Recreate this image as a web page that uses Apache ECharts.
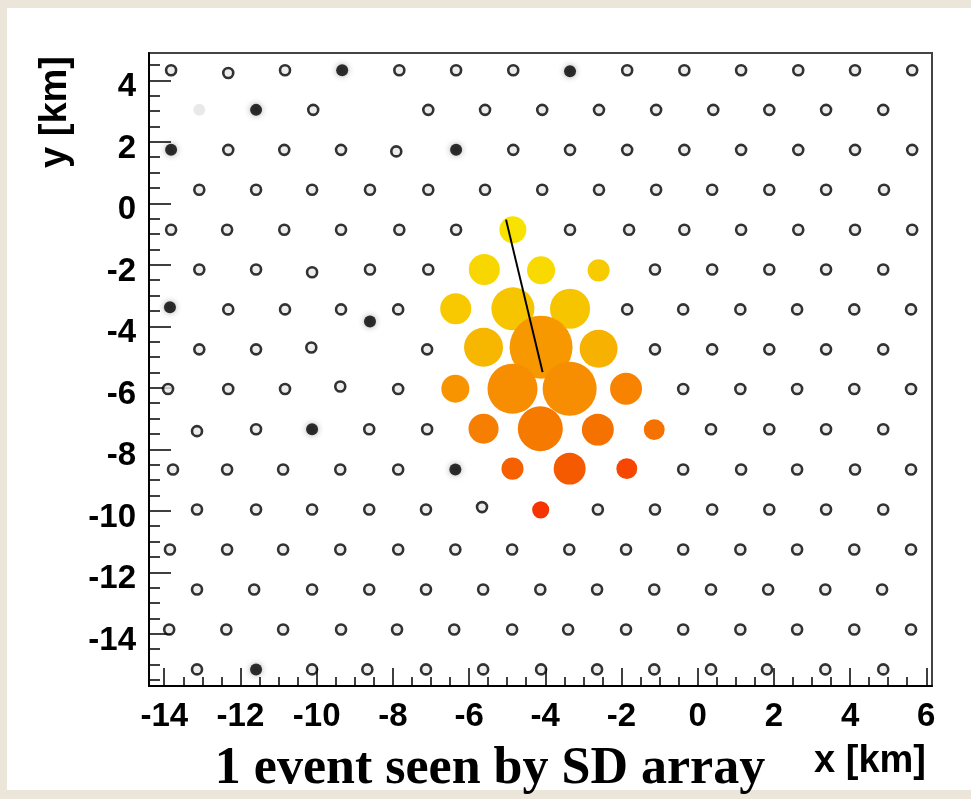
<!DOCTYPE html>
<html>
<head>
<meta charset="utf-8">
<script src="https://cdn.jsdelivr.net/npm/echarts@6/dist/echarts.min.js"></script>
<style>
  html, body { margin: 0; padding: 0; background: #ebe6d9; }
  #paper { position: absolute; left: 7px; top: 8px; right: 0; bottom: 9px; background: #fff; }
  #chart { position: absolute; left: 0; top: 0; width: 971px; height: 799px; }
</style>
</head>
<body>
<div id="paper"></div>
<div id="chart"></div>
<script>
// axis ticks (km)
const majorX = [-14, -12, -10, -8, -6, -4, -2, 0, 2, 4, 6]
const minorX = [-13.5, -13, -12.5, -11.5, -11, -10.5, -9.5, -9, -8.5, -7.5, -7, -6.5, -5.5, -5, -4.5,
  -3.5, -3, -2.5, -1.5, -1, -0.5, 0.5, 1, 1.5, 2.5, 3, 3.5, 4.5, 5, 5.5]
const majorY = [4, 2, 0, -2, -4, -6, -8, -10, -12, -14]
const minorY = [4.5, 3.5, 3, 2.5, 1.5, 1, 0.5, -0.5, -1, -1.5, -2.5, -3, -3.5, -4.5, -5, -5.5, -6.5, -7, -7.5,
  -8.5, -9, -9.5, -10.5, -11, -11.5, -12.5, -13, -13.5, -14.5, -15, -15.5]

// silent stations, one row of the array per entry (y of row, x of stations)
const rowY = [4.33, 3.04, 1.74, 0.44, -0.86, -2.15, -3.45, -4.75, -6.04, -7.35, -8.66, -9.96, -11.26, -12.56, -13.86, -15.16]
const rowX = [
  [-13.82, -10.83, -7.83, -6.34, -4.84, -1.85, -0.35, 1.14, 2.64, 4.13, 5.63],
  [-10.09, -7.07, -5.58, -4.08, -2.59, -1.09, 0.41, 1.88, 3.37, 4.87],
  [-12.32, -10.85, -9.36, -4.84, -3.35, -1.85, -0.35, 1.14, 2.64, 4.13, 5.63],
  [-13.08, -11.59, -10.12, -8.60, -7.07, -5.58, -4.08, -2.59, -1.09, 0.38, 1.88, 3.37, 4.89],
  [-13.82, -12.35, -10.85, -9.36, -7.83, -6.34, -3.35, -1.80, -0.35, 1.14, 2.64, 4.13, 5.63],
  [-13.08, -11.59, -8.60, -7.07, -1.12, 0.38, 1.88, 3.37, 4.87],
  [-12.32, -10.83, -9.36, -7.86, -1.85, -0.38, 1.12, 2.61, 4.11, 5.60],
  [-13.08, -11.59, -7.10, -1.12, 0.38, 1.88, 3.37, 4.87],
  [-13.90, -12.32, -10.83, -7.86, -0.38, 1.12, 2.61, 4.11, 5.60],
  [-11.59, -8.62, -7.10, 0.35, 1.88, 3.37, 4.87],
  [-13.77, -12.35, -10.88, -9.38, -7.86, -0.38, 1.14, 2.61, 4.13, 5.60],
  [-13.14, -11.59, -10.12, -8.62, -7.13, -2.62, -1.12, 0.38, 1.88, 3.37, 4.87],
  [-13.85, -12.35, -10.88, -9.38, -7.86, -6.36, -4.87, -3.37, -1.88, -0.38, 1.12, 2.61, 4.11, 5.60],
  [-13.14, -11.64, -10.12, -8.62, -7.13, -5.63, -4.13, -2.64, -1.14, 0.35, 1.85, 3.35, 4.84],
  [-13.87, -12.37, -10.88, -9.36, -7.89, -6.39, -4.87, -3.40, -1.88, -0.38, 1.12, 2.61, 4.11, 5.60],
  [-13.14, -10.12, -8.67, -7.13, -5.63, -4.11, -2.64, -1.14, 0.35, 1.82, 3.35, 4.87]
]
// silent stations sitting a little off their row
const offRowStations = [[-12.32, 4.24], [-7.91, 1.69], [-10.12, -2.24], [-10.14, -4.69], [-9.38, -5.96], [-13.14, -7.41], [-5.66, -9.88]]
// stations out of service (black) and the one shown in light grey
const deadStations = [[-9.33, 4.33], [-3.35, 4.30], [-11.59, 3.04], [-13.82, 1.74], [-6.34, 1.74], [-13.85, -3.38],
  [-8.60, -3.84], [-10.12, -7.35], [-6.36, -8.66], [-11.59, -15.16]]
const greyStations = [[-13.08, 3.04]]

// triggered stations: position, signal (size) and arrival time (colour)
const hitX = [-4.85, -5.60, -4.11, -2.60, -6.35, -4.85, -3.35, -5.62, -4.11, -2.60, -6.36, -4.86, -3.36, -1.88,
  -5.62, -4.13, -2.62, -1.14, -4.86, -3.36, -1.86, -4.12]
const hitY = [-0.86, -2.15, -2.18, -2.18, -3.43, -3.43, -3.43, -4.68, -4.68, -4.73, -6.03, -6.03, -6.03, -6.03,
  -7.33, -7.33, -7.36, -7.36, -8.63, -8.63, -8.63, -9.97]
const hitSignal = [9.0, 11.9, 9.7, 6.0, 11.9, 22.8, 19.8, 18.8, 49, 17.8, 9.7, 30.9, 36, 12.6,
  11.1, 25, 12.6, 5.4, 6.0, 12.6, 5.4, 3.6]
const hitTime = [0.14, 0.44, 0.37, 0.74, 0.79, 0.86, 0.86, 1.20, 1.95, 1.34, 2.06, 2.22, 2.22, 2.48,
  2.59, 2.71, 2.89, 2.89, 3.33, 3.47, 3.96, 4.40]

// reconstructed shower axis
const showerAxis = [[-5.03, -0.53], [-4.07, -5.49]]

const silent = []
rowX.forEach((xs, i) => xs.forEach(x => silent.push([x, rowY[i]])))
offRowStations.forEach(p => silent.push(p))
const hits = hitX.map((x, i) => [x, hitY[i], hitSignal[i], hitTime[i]])

const labelFont = { fontFamily: 'Liberation Sans', fontWeight: 'bold', fontSize: 33, color: '#000' }
const tickStyle = { color: '#000', width: 1.5 }

const chart = echarts.init(document.getElementById('chart'), null, { renderer: 'canvas' })
chart.setOption({
  animation: false,
  backgroundColor: 'transparent',
  grid: { left: 149, top: 53, width: 783, height: 633, show: true, borderColor: '#444', borderWidth: 2 },
  xAxis: [
    {
      type: 'value', min: -14.4, max: 6.15, position: 'bottom',
      axisLine: { show: true, onZero: false, lineStyle: { color: '#000', width: 2 } },
      axisTick: { show: true, inside: true, length: 18, customValues: majorX, lineStyle: tickStyle },
      axisLabel: { ...labelFont, margin: 14, customValues: majorX },
      splitLine: { show: false }
    },
    {
      type: 'value', min: -14.4, max: 6.15, position: 'bottom',
      axisLine: { show: false, onZero: false },
      axisTick: { show: true, inside: true, length: 9, customValues: minorX, lineStyle: tickStyle },
      axisLabel: { show: false },
      splitLine: { show: false }
    }
  ],
  yAxis: [
    {
      type: 'value', min: -15.7, max: 4.89, position: 'left',
      axisLine: { show: true, onZero: false, lineStyle: { color: '#000', width: 2 } },
      axisTick: { show: true, inside: true, length: 22, customValues: majorY, lineStyle: tickStyle },
      axisLabel: { ...labelFont, margin: 13, verticalAlign: 'top', lineHeight: 14, customValues: majorY },
      splitLine: { show: false }
    },
    {
      type: 'value', min: -15.7, max: 4.89, position: 'left',
      axisLine: { show: false, onZero: false },
      axisTick: { show: true, inside: true, length: 11, customValues: minorY, lineStyle: tickStyle },
      axisLabel: { show: false },
      splitLine: { show: false }
    }
  ],
  visualMap: {
    show: false, type: 'continuous', seriesIndex: 3, dimension: 3, min: 0, max: 5,
    inRange: { color: ['#f8e800', '#f51c00'] }
  },
  series: [
    {
      type: 'scatter', data: silent, symbol: 'circle', symbolSize: 10, silent: true,
      itemStyle: { color: '#e8e8e8', borderColor: '#000', borderWidth: 2.6 }
    },
    {
      type: 'scatter', data: deadStations, symbol: 'circle', symbolSize: 12, silent: true,
      itemStyle: { color: '#000', shadowBlur: 6, shadowColor: 'rgba(0,0,0,0.4)' }
    },
    {
      type: 'scatter', data: greyStations, symbol: 'circle', symbolSize: 12, silent: true,
      itemStyle: { color: '#e4e4e4' }
    },
    {
      type: 'scatter', data: hits, symbol: 'circle', silent: true, z: 3,
      symbolSize: v => 9 * Math.sqrt(v[2]),
      itemStyle: { opacity: 1 }
    },
    {
      type: 'line', data: showerAxis, symbol: 'none', silent: true, z: 5,
      lineStyle: { color: '#000', width: 2 }
    }
  ],
  graphic: [
    {
      type: 'text', x: 56, y: 112, rotation: Math.PI / 2,
      style: { text: 'y [km]', font: 'bold 38px "Liberation Sans"', fill: '#000', align: 'center', verticalAlign: 'middle' }
    },
    {
      type: 'text', x: 870, y: 762,
      style: { text: 'x [km]', font: 'bold 38px "Liberation Sans"', fill: '#000', align: 'center', verticalAlign: 'middle' }
    },
    {
      type: 'text', x: 490, y: 770,
      style: { text: '1 event seen by SD array', font: 'bold 52px "Liberation Serif"', fill: '#000', align: 'center', verticalAlign: 'middle' }
    }
  ]
})
</script>
</body>
</html>
